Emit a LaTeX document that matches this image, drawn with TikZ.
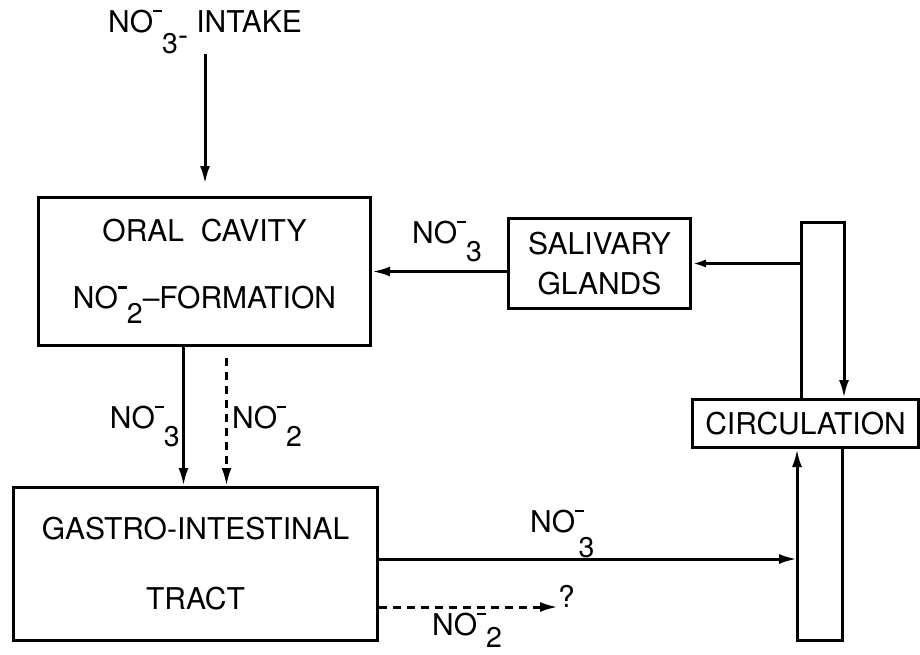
\documentclass[tikz,border=0pt]{standalone}
\usepackage{fontspec}
\setmainfont{TeX Gyre Heros}
\usetikzlibrary{arrows.meta,positioning}
% NO with a raised minus and a lowered index
\newcommand{\ion}[2]{NO\rule[0.66em]{0.3em}{0.09em}\raisebox{#1}{\scalebox{0.95}{#2}}}

\begin{document}
\begin{tikzpicture}[
    x=1pt, y=-1pt,
    every node/.style={font=\fontsize{30}{36}\selectfont, inner sep=0pt},
    box/.style={rectangle, draw, line width=3pt, anchor=north west, align=center},
    flow/.style={-{Latex[length=18pt,width=10pt]}, line width=3pt},
    flowdash/.style={flow, dash pattern=on 8pt off 6pt},
    tag/.style={anchor=base west}
  ]
  \useasboundingbox (0,0) rectangle (920,654);

  \node[anchor=base] (intake) at (205,32) {\ion{-0.7em}{3}\raisebox{-0.45em}{-} INTAKE};
  \node[box, minimum width=332pt, minimum height=148pt,
    font=\fontsize{30}{67}\selectfont] (oral) at (37,196)
    {ORAL\ \ CAVITY\\\ion{-0.5em}{2}--FORMATION};
  \node[box, minimum width=182pt, minimum height=90pt,
    font=\fontsize{30}{40}\selectfont] (saliv) at (507,217) {SALIVARY\\GLANDS};
  \node[box, minimum width=364pt, minimum height=153pt,
    font=\fontsize{30}{70}\selectfont] (gi) at (12,486) {GASTRO-INTESTINAL\\TRACT};
  \node[box, minimum width=226pt, minimum height=48pt] (circ) at (691,398) {CIRCULATION};

  % corners of the circulation bar
  \coordinate (bartl) at (801,222);
  \coordinate (bartr) at (844,222);
  \coordinate (barbl) at (797,640);
  \coordinate (barbr) at (842,640);

  \draw[flow] (circ.north -| bartl) -- (bartl) -- (bartr) -- (bartr |- circ.north);
  \draw[flow] (barbr |- circ.south) -- (barbr) -- (barbl) -- (barbl |- circ.south);

  \draw[flow, shorten >=12pt] (intake.south) -- (intake.south |- oral.north);
  \draw[flow, -{Latex[length=14pt,width=8pt]}] (bartl |- saliv.east) -- (saliv.east);
  \draw[flow] (saliv.west |- oral.east) -- (oral.east);
  \node[tag] (lsaliv) at (412,243) {\ion{-0.63em}{3}};

  % oral cavity down to the gut
  \coordinate (no3top) at ([xshift=-21pt]oral.south);
  \coordinate (no2top) at ([xshift=22pt,yshift=-11pt]oral.south);
  \draw[flow] (no3top) -- (no3top |- gi.north);
  \draw[flowdash] (no2top) -- (no2top |- gi.north);
  \node[anchor=base east] (ldown3) at (180,428) {\ion{-0.63em}{3}};
  \node[tag] (ldown2) at (232,428) {\ion{-0.63em}{2}};

  % gut out to circulation
  \coordinate (gino3) at ([yshift=5pt]gi.east);
  \draw[flow] (gino3) -- (gino3 -| barbl);
  \node[tag] (lgi3) at (530,532) {\ion{-0.85em}{\kern-0.2em3}};
  \node[tag] (unknown) at (558,607) {?};
  \draw[flowdash] (gi.east |- unknown.base) -- (unknown.base west);
  \node[tag] (lgi2) at (432,635) {\ion{-0.42em}{2}};
\end{tikzpicture}
\end{document}
